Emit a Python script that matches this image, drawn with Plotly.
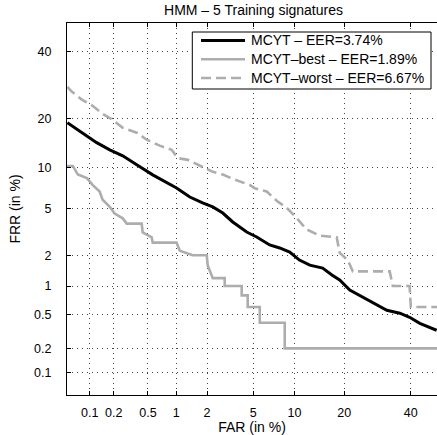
from statistics import NormalDist
import plotly.graph_objects as go

# Data (percent values)
far_mcyt = [0.0506, 0.0811, 0.123, 0.179, 0.257, 0.374, 0.565, 1.01, 1.37, 1.82, 2.26, 2.78, 3.39, 4.43,
            5.32, 6.68, 7.90, 9.29, 10.8, 12.6, 15.1, 17.1, 18.9, 21.4, 24.0, 27.8, 32.1, 36.3, 39.6,
            43.1, 46.6, 49.0]
frr_mcyt = [18.9, 16.6, 14.5, 13.1, 12.0, 10.5, 8.96, 7.23, 6.19, 5.57, 5.19, 4.64, 3.92, 3.22,
            2.92, 2.48, 2.33, 2.14, 1.80, 1.61, 1.51, 1.29, 1.15, 0.906, 0.802, 0.675, 0.553, 0.513,
            0.462, 0.395, 0.355, 0.328]

far_best = [0.05, 0.06, 0.07, 0.092, 0.109, 0.134, 0.146, 0.179, 0.206, 0.257, 0.286, 0.426, 0.437,
            0.551, 0.565, 1.01, 1.09, 1.46, 1.99, 2.03, 2.26, 2.89, 2.89, 4.03, 4.03, 4.51, 4.51,
            5.62, 5.62, 8.58, 8.58, 50]
frr_best = [10.3, 10.3, 9.0, 8.5, 7.6, 6.8, 5.9, 5.2, 4.6, 4.2, 3.8, 3.8, 3.2, 2.9, 2.6, 2.6, 2.2,
            2.0, 2.0, 1.6, 1.2, 1.2, 1.0, 1.0, 0.8, 0.8, 0.6, 0.6, 0.4, 0.4, 0.2, 0.2]

far_worst = [0.0506, 0.058, 0.079, 0.109, 0.146, 0.194, 0.257, 0.374, 0.485, 0.672, 0.899, 1.04,
             1.31, 1.78, 2.26, 2.78, 3.52, 4.68, 5.13, 6.35, 7.52, 8.86, 10.4, 12.0, 14.5, 18.2,
             18.9, 20.9, 22.2, 33.0, 34.0, 39.6, 40.0, 50]
frr_worst = [28.6, 27.2, 24.9, 23.2, 21.1, 19.6, 17.7, 16.6, 15.1, 13.9, 13.1, 11.6, 11.3, 10.2,
             9.4, 9.0, 8.3, 7.6, 7.2, 6.8, 5.8, 5.1, 4.2, 3.4, 3.0, 2.9, 2.1, 1.8, 1.4, 1.4, 1.0,
             1.0, 0.6, 0.6]

tick_vals = [0.1, 0.2, 0.5, 1, 2, 5, 10, 20, 40]
tick_text = ["0.1", "0.2", "0.5", "1", "2", "5", "10", "20", "40"]

names = ["MCYT – EER=3.74%", "MCYT–best – EER=1.89%", "MCYT–worst – EER=6.67%"]

nd = NormalDist()
def probit(vals):
    return [nd.inv_cdf(v / 100.0) for v in vals]

GRAY = "#adadad"
styles = [dict(color="black", width=3),
          dict(color=GRAY, width=2.6),
          dict(color=GRAY, width=2.6, dash="10px,5px")]
series = [(far_mcyt, frr_mcyt), (far_best, frr_best), (far_worst, frr_worst)]

fig = go.Figure()
for (fx, fy), nm, st in zip(series, names, styles):
    fig.add_trace(go.Scatter(x=probit(fx), y=probit(fy), mode="lines", name=nm,
                             line=st, showlegend=False))

FONT = "Liberation Sans, Arial, Helvetica, sans-serif"
lo = nd.inv_cdf(0.0005)
W, H = 437, 435
L, T, PW, PH = 67, 23, 370, 372
axis_common = dict(
    tickmode="array", tickvals=probit(tick_vals), ticktext=tick_text,
    showgrid=True, gridcolor="#444444", gridwidth=1, griddash="1px,4px",
    zeroline=False, showline=True, linecolor="black", linewidth=1.2,
    ticks="inside", ticklen=4, tickcolor="black", tickwidth=1,
    tickfont=dict(family=FONT, size=12.5, color="black"),
)
fig.update_xaxes(**axis_common, range=[lo, lo + PW / 113.2], mirror="ticks",
                 ticklabelstandoff=6,
                 title=dict(text="FAR (in %)", font=dict(family=FONT, size=14, color="black"),
                            standoff=3))
fig.update_yaxes(**axis_common, range=[lo, 0], mirror=False, ticklabelstandoff=12,
                 title=dict(text="FRR (in %)", font=dict(family=FONT, size=14, color="black"),
                            standoff=10))

# legend box (drawn in paper coordinates, like a MATLAB legend)
def px(xpix):
    return (xpix - L) / PW
def py(ypix):
    return 1 - (ypix - T) / PH

shapes = [dict(type="rect", xref="paper", yref="paper", x0=px(192.3), x1=px(431),
               y0=py(32), y1=py(89), line=dict(color="black", width=1), fillcolor="white",
               layer="above")]
annotations = []
row_y = [40.5, 59.3, 78]
for nm, st, ry in zip(names, styles, row_y):
    shapes.append(dict(type="line", xref="paper", yref="paper", x0=px(201), x1=px(245),
                       y0=py(ry), y1=py(ry), line=st, layer="above"))
    annotations.append(dict(text=nm, xref="paper", yref="paper", x=px(248.5), y=py(ry),
                            xanchor="left", yanchor="middle", showarrow=False,
                            font=dict(family=FONT, size=14, color="black")))

fig.update_layout(
    width=W, height=H,
    margin=dict(l=L, r=W - L - PW, t=T, b=H - T - PH, autoexpand=False),
    paper_bgcolor="white", plot_bgcolor="white",
    title=dict(text="HMM – 5 Training signatures", x=253.5 / W, xanchor="center",
               y=1 - 10 / H, yanchor="middle",
               font=dict(family=FONT, size=14, color="black")),
    shapes=shapes, annotations=annotations,
    showlegend=False,
)

fig.write_html("out.html", config={"displayModeBar": False},
               post_script="document.body.style.margin='0px';")
